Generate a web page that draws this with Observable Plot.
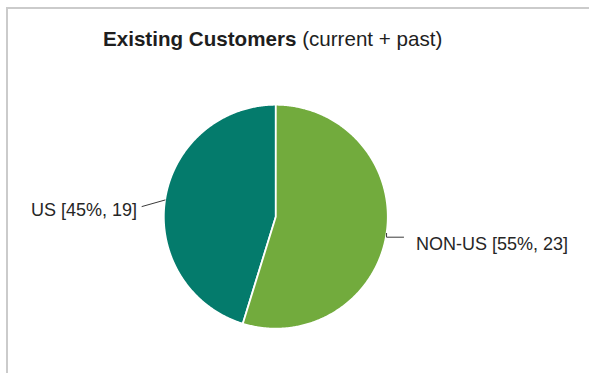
<!DOCTYPE html>
<html>
<head>
<meta charset="utf-8">
<script src="https://cdn.jsdelivr.net/npm/d3@7"></script>
<script src="https://cdn.jsdelivr.net/npm/@observablehq/plot@0.6"></script>
<style>
  html, body { margin: 0; padding: 0; background: #fff; }
  #wrap { position: relative; width: 589px; height: 373px; overflow: hidden; font-family: "Liberation Sans", Helvetica, Arial, sans-serif; }
  #frame { position: absolute; left: 6px; top: 7px; width: 700px; height: 500px; border-left: 2px solid #cbcbcb; border-top: 2px solid #cbcbcb; }
  #title { position: absolute; left: 103px; top: 29px; font-size: 20.6px; line-height: 20px; color: #1e1e1e; white-space: nowrap; }
  #title b { font-weight: bold; }
  #chart { position: absolute; left: 0; top: 0; }
</style>
</head>
<body>
<div id="wrap">
  <div id="frame"></div>
  <div id="chart"></div>
  <div id="title"><b>Existing Customers</b> (current + past)</div>
</div>
<script>
// ---- data ----
const categories = ["US", "NON-US"];
const counts = [19, 23];
const percents = [45, 55];
const colors = ["#047b6c", "#72ab3d"];

// ---- layout ----
const W = 589, H = 373;
const cx = 275.3, cy = 216.2, R = 112; // pixel center and radius
const px = v => v / R; // pixels -> data units

const rows = categories.map((c, i) => ({cat: c, count: counts[i], pct: percents[i]}));
const arcs = d3.pie().value(d => d.count)(rows); // default sort: largest first, from 12 o'clock clockwise

const slicePts = [];
for (const a of arcs) {
  const n = Math.max(2, Math.ceil((a.endAngle - a.startAngle) / (Math.PI / 360)));
  slicePts.push({cat: a.data.cat, x: 0, y: 0});
  for (let k = 0; k <= n; k++) {
    const t = a.startAngle + (a.endAngle - a.startAngle) * k / n;
    slicePts.push({cat: a.data.cat, x: Math.sin(t), y: Math.cos(t)});
  }
  slicePts.push({cat: a.data.cat, x: 0, y: 0});
}

// leader lines and labels
const leaderPts = [];
const labels = [];
for (const a of arcs) {
  const m = (a.startAngle + a.endAngle) / 2;
  const ex = Math.sin(m), ey = Math.cos(m);
  const c = a.data.cat;
  const text = `${c} [${a.data.pct}%, ${a.data.count}]`;
  if (ex < 0) {
    leaderPts.push({cat: c, x: ex, y: ey});
    leaderPts.push({cat: c, x: ex - px(23), y: ey - px(6.5)});
    labels.push({text, x: ex - px(28), y: ey - px(10.3), anchor: "end"});
  } else {
    leaderPts.push({cat: c, x: ex, y: ey});
    leaderPts.push({cat: c, x: ex, y: ey - px(3.8)});
    leaderPts.push({cat: c, x: ex + px(17), y: ey - px(3.8)});
    labels.push({text, x: ex + px(29.5), y: ey - px(11.3), anchor: "start"});
  }
}

const plot = Plot.plot({
  width: W,
  height: H,
  margin: 0,
  x: {domain: [-cx / R, (W - cx) / R], axis: null},
  y: {domain: [-(H - cy) / R, cy / R], axis: null},
  color: {domain: categories, range: colors},
  style: {background: "transparent", fontFamily: "'Liberation Sans', Helvetica, Arial, sans-serif"},
  marks: [
    Plot.line(slicePts, {x: "x", y: "y", z: "cat", fill: "cat", stroke: "white", strokeWidth: 1.8, strokeLinejoin: "round"}),
    Plot.line(leaderPts, {x: "x", y: "y", z: "cat", stroke: "#3a3a3a", strokeWidth: 1}),
    Plot.text(labels.filter(d => d.anchor === "end"), {x: "x", y: "y", text: "text", textAnchor: "end", fontSize: 18, fill: "#262626"}),
    Plot.text(labels.filter(d => d.anchor === "start"), {x: "x", y: "y", text: "text", textAnchor: "start", fontSize: 18, fill: "#262626"})
  ]
});
document.getElementById("chart").appendChild(plot);
</script>
</body>
</html>
